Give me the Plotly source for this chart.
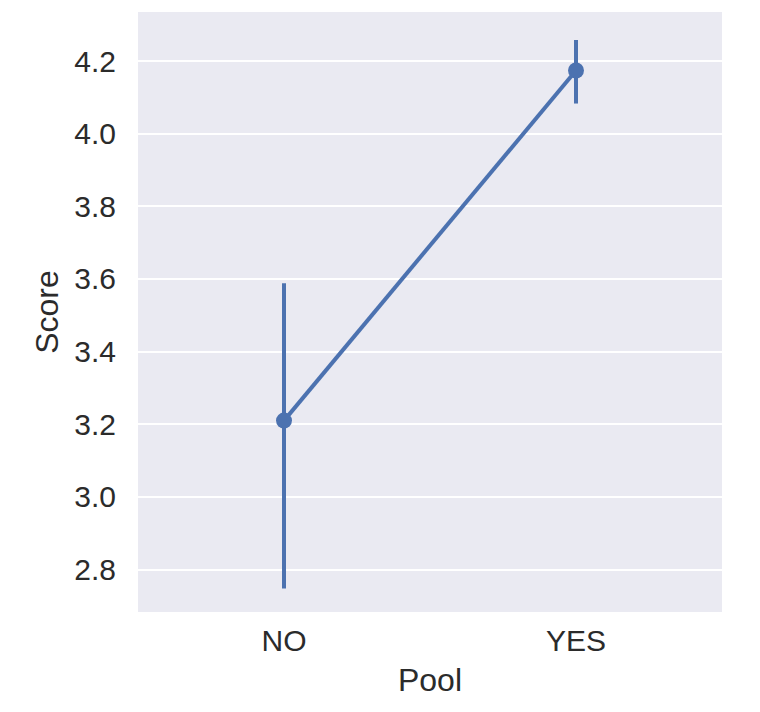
import plotly.graph_objects as go

categories = ["NO", "YES"]
means = [3.210, 4.174]
ci_low = [2.748, 4.083]
ci_high = [3.588, 4.258]
y_ticks = [2.8, 3.0, 3.2, 3.4, 3.6, 3.8, 4.0, 4.2]

color = "#4C72B0"
text_color = "#2b2b2b"
font_family = "Arial, 'Liberation Sans', Helvetica, sans-serif"

err_plus = [h - m for h, m in zip(ci_high, means)]
err_minus = [m - l for m, l in zip(means, ci_low)]

fig = go.Figure()
fig.add_trace(go.Scatter(
    x=categories, y=means, mode="lines+markers",
    line=dict(color=color, width=4),
    marker=dict(color=color, size=16),
    error_y=dict(type="data", array=err_plus, arrayminus=err_minus,
                 color=color, thickness=4, width=0, symmetric=False),
    showlegend=False, hoverinfo="skip",
))

fig.update_layout(
    width=760, height=712,
    margin=dict(l=130, r=46, t=4, b=108),
    paper_bgcolor="white",
    plot_bgcolor="#EAEAF2",
    font=dict(family=font_family, color=text_color, size=30),
)
fig.update_xaxes(
    type="category", range=[-0.5, 1.5],
    showgrid=False, zeroline=False, showline=False,
    ticks="outside", ticklen=2, tickcolor="rgba(0,0,0,0)",
    tickfont=dict(size=30, color=text_color),
    title=dict(text="Pool", font=dict(size=32, color=text_color), standoff=12),
)
fig.update_yaxes(
    range=[2.683, 4.335],
    tickvals=y_ticks, ticktext=[f"{v:.1f}" for v in y_ticks],
    showgrid=True, gridcolor="white", gridwidth=2,
    zeroline=False, showline=False,
    ticks="outside", ticklen=15, tickcolor="rgba(0,0,0,0)",
    tickfont=dict(size=30, color=text_color),
    title=dict(text="Score", font=dict(size=32, color=text_color), standoff=6),
)

fig.write_html("out.html")
